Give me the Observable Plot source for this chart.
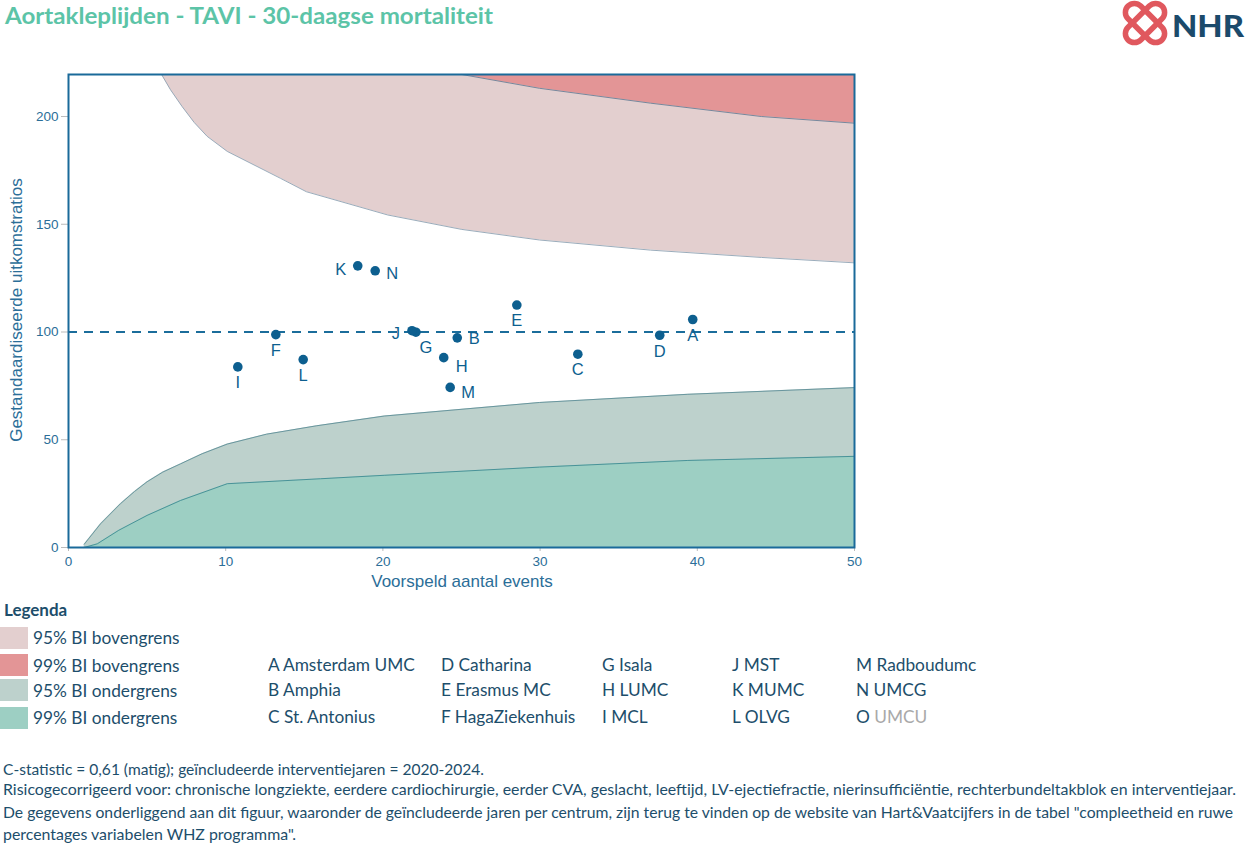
<!DOCTYPE html>
<html>
<head>
<meta charset="utf-8">
<script src="https://cdn.jsdelivr.net/npm/d3@7"></script>
<script src="https://cdn.jsdelivr.net/npm/@observablehq/plot@0.6"></script>
<style>
  html, body { margin: 0; padding: 0; background: #fff; }
  #wrap { position: relative; width: 1246px; height: 845px; overflow: hidden; font-family: Lato, "Open Sans", sans-serif; }
  #chart { position: absolute; left: 0; top: 0; }
  .ax { position: absolute; color: #2b6e98; font-family: "Liberation Sans", Arial, sans-serif; font-size: 17px; white-space: nowrap; }
  .lg { position: absolute; color: #1d4e6b; font-size: 17.3px; white-space: nowrap; line-height: 20px; }
  .sw { position: absolute; left: 0; width: 28px; height: 22px; }
</style>
</head>
<body>
<div id="wrap">
  <svg id="header" width="1246" height="60" style="position:absolute;left:0;top:0">
    <text x="5" y="23.5" fill="#5cc4a7" font-family="Lato, sans-serif" font-weight="700" font-size="23" textLength="488" lengthAdjust="spacingAndGlyphs">Aortakleplijden - TAVI - 30-daagse mortaliteit</text>
    <g fill="none" stroke="#e0585e" stroke-width="5.5">
      <rect x="-24" y="-9" width="48" height="18" rx="9" transform="translate(1145,23) rotate(45)"></rect>
      <rect x="-24" y="-9" width="48" height="18" rx="9" transform="translate(1145,23) rotate(-45)"></rect>
    </g>
    <text x="1172" y="37" fill="#1b4a6b" font-family="Lato, sans-serif" font-weight="900" font-size="30" textLength="72" lengthAdjust="spacingAndGlyphs">NHR</text>
  </svg>
  <div id="chart"></div>
  <div class="ax" style="left:462px;top:572px;transform:translateX(-50%)">Voorspeld aantal events</div>
  <div class="ax" style="left:17px;top:310px;transform:translate(-50%,-50%) rotate(-90deg)">Gestandaardiseerde uitkomstratios</div>
  <div id="legend"></div>
  <svg id="footer" width="1246" height="100" style="position:absolute;left:0;top:750px"></svg>
</div>
<script>
// ---- data ----
const codes = ["A","B","C","D","E","F","G","H","I","J","K","L","M","N"];
const expected = [39.71, 24.73, 32.40, 37.61, 28.52, 13.19, 22.10, 23.87, 10.77, 21.85, 18.40, 14.93, 24.28, 19.51];
const ratio    = [105.8, 97.3, 89.7, 98.5, 112.5, 98.8, 99.9, 88.1, 83.8, 100.6, 130.7, 87.2, 74.3, 128.4];

const hospitalCodes = ["A","B","C","D","E","F","G","H","I","J","K","L","M","N","O"];
const hospitalNames = ["Amsterdam UMC","Amphia","St. Antonius","Catharina","Erasmus MC","HagaZiekenhuis","Isala","LUMC","MCL","MST","MUMC","OLVG","Radboudumc","UMCG","UMCU"];

const upper95X = [5.92, 6.49, 7.23, 8.0, 8.82, 10.1, 13.49, 15.13, 20.31, 25.02, 29.96, 37.02, 44.08, 50];
const upper95Y = [219.5, 212.4, 204.6, 197.2, 190.8, 183.8, 171.3, 165.1, 154.3, 147.6, 142.7, 138.0, 134.6, 132.1];
const upper99X = [25.02, 29.96, 37.02, 44.08, 50];
const upper99Y = [219.5, 213.1, 206.2, 200.0, 196.9];
const lower95X = [1.0, 2.04, 3.3, 4.2, 5.0, 6.0, 7.12, 8.5, 10.1, 12.6, 15.8, 20.08, 29.96, 39.4, 50];
const lower95Y = [1.5, 11.0, 20.3, 26.0, 30.5, 35.0, 38.8, 43.5, 48.0, 52.6, 56.5, 61.0, 67.3, 71.1, 74.2];
const lower99X = [1.0, 1.83, 3.2, 5.0, 7.12, 10.1, 16.03, 20.08, 29.96, 39.4, 50];
const lower99Y = [0, 1.7, 8.0, 14.9, 21.8, 29.6, 31.9, 33.5, 37.3, 40.4, 42.3];

const xTicks = [0, 10, 20, 30, 40, 50];
const yTicks = [0, 50, 100, 150, 200];
const referenceLine = 100;
const yMax = 219.5;

const legendLabels = ["95% BI bovengrens","99% BI bovengrens","95% BI ondergrens","99% BI ondergrens"];
const legendColors = ["#e3cfcf","#e39596","#bdd1cc","#9dcfc3"];

const footerLines = [
  "C-statistic =  0,61 (matig); geïncludeerde interventiejaren = 2020-2024.",
  "Risicogecorrigeerd voor: chronische longziekte, eerdere cardiochirurgie, eerder CVA, geslacht, leeftijd, LV-ejectiefractie, nierinsufficiëntie, rechterbundeltakblok en interventiejaar.",
  "De gegevens onderliggend aan dit figuur, waaronder de geïncludeerde jaren per centrum, zijn terug te vinden op de website van Hart&Vaatcijfers in de tabel \"compleetheid en ruwe",
  "percentages variabelen WHZ programma\"."
];

// ---- build tables ----
const zip = (xs, ys) => xs.map((x, i) => ({x, y: ys[i]}));
const up95 = zip(upper95X, upper95Y), up99 = zip(upper99X, upper99Y);
const lo95 = zip(lower95X, lower95Y), lo99 = zip(lower99X, lower99Y);
const pts = codes.map((c, i) => ({code: c, x: expected[i], y: ratio[i]}));

// label offsets (placement only)
const offs = {A:[0,16],B:[17,1],C:[0,16],D:[0,16],E:[0,16],F:[0,16],G:[10,15],H:[18,9],I:[0,16],J:[-16,3],K:[-17,4],L:[0,16],M:[18,5],N:[17,3]};

const ptColor = "#0d5f8f";
const labelMarks = pts.map(p => Plot.text([p], {x: "x", y: "y", text: "code", dx: offs[p.code][0], dy: offs[p.code][1], fill: ptColor, fontSize: 16.5, textAnchor: "middle", lineAnchor: "middle"}));
const cv = "linear";

const chart = Plot.plot({
  width: 1246, height: 600,
  marginLeft: 68, marginRight: 392, marginTop: 74, marginBottom: 53,
  style: {fontFamily: "'Liberation Sans', Arial, sans-serif", background: "transparent"},
  x: {domain: [0, 50]},
  y: {domain: [0, yMax]},
  marks: [
    Plot.areaY(up95, {x: "x", y1: "y", y2: () => yMax, fill: legendColors[0], curve: cv}),
    Plot.areaY(up99, {x: "x", y1: "y", y2: () => yMax, fill: legendColors[1], curve: cv}),
    Plot.areaY(lo95, {x: "x", y1: () => 0, y2: "y", fill: legendColors[2], curve: cv}),
    Plot.areaY(lo99, {x: "x", y1: () => 0, y2: "y", fill: legendColors[3], curve: cv}),
    Plot.line(up95, {x: "x", y: "y", stroke: "#8fa3b3", strokeWidth: 0.9, curve: cv}),
    Plot.line(up99, {x: "x", y: "y", stroke: "#6a7f96", strokeWidth: 0.9, curve: cv}),
    Plot.line(lo95, {x: "x", y: "y", stroke: "#5f8f98", strokeWidth: 0.9, curve: cv}),
    Plot.line(lo99, {x: "x", y: "y", stroke: "#3f8b93", strokeWidth: 0.9, curve: cv}),
    Plot.ruleY([referenceLine], {stroke: "#1b6d9b", strokeWidth: 2, strokeDasharray: "9,7"}),
    Plot.dot(pts, {x: "x", y: "y", r: 4.8, fill: ptColor, stroke: "none"}),
    ...labelMarks,
    Plot.axisX(xTicks, {stroke: "#bbbbbb", fill: "#2b6e98", tickSize: 4, tickPadding: 5, fontSize: 13.5, label: null}),
    Plot.axisY(yTicks, {stroke: "#bbbbbb", fill: "#2b6e98", tickSize: 7, tickPadding: 3, fontSize: 13.5, label: null}),
    Plot.frame({stroke: "#1a6a9a", strokeWidth: 2})
  ]
});
document.getElementById("chart").appendChild(chart);

// ---- legend ----
const lg = document.getElementById("legend");
function addText(x, y, html, extra) {
  const d = document.createElement("div");
  d.className = "lg";
  d.style.left = x + "px";
  d.style.top = (y - 10) + "px";
  if (extra) Object.assign(d.style, extra);
  d.innerHTML = html;
  lg.appendChild(d);
}
addText(4, 610, "Legenda", {fontWeight: "700", fontSize: "17px"});
const swTops = [627, 654, 679, 707];
const txtY = [638, 665.5, 691, 717.5];
legendLabels.forEach((l, i) => {
  const s = document.createElement("div");
  s.className = "sw";
  s.style.top = swTops[i] + "px";
  s.style.background = legendColors[i];
  lg.appendChild(s);
  addText(33, txtY[i], l);
});
const colX = [268, 441, 602, 732, 856];
const rowY = [665, 690, 717];
hospitalCodes.forEach((c, i) => {
  const col = Math.floor(i / 3), row = i % 3;
  const name = c === "O" ? `<span style="color:#a9a9a9">${hospitalNames[i]}</span>` : hospitalNames[i];
  addText(colX[col], rowY[row], `${c} ${name}`);
});

// ---- footer ----
const ft = document.getElementById("footer");
const ns = "http://www.w3.org/2000/svg";
const fY = [20, 40, 63, 85];
const fW = [481, 1233, 1230, 293];
footerLines.forEach((t, i) => {
  const e = document.createElementNS(ns, "text");
  e.setAttribute("x", 3);
  e.setAttribute("y", fY[i] + 5);
  e.setAttribute("fill", "#1d4e6b");
  e.setAttribute("font-family", "Lato, sans-serif");
  e.setAttribute("font-size", "15");
  e.setAttribute("textLength", fW[i]);
  e.setAttribute("lengthAdjust", "spacingAndGlyphs");
  e.textContent = t;
  ft.appendChild(e);
});
</script>
</body>
</html>
